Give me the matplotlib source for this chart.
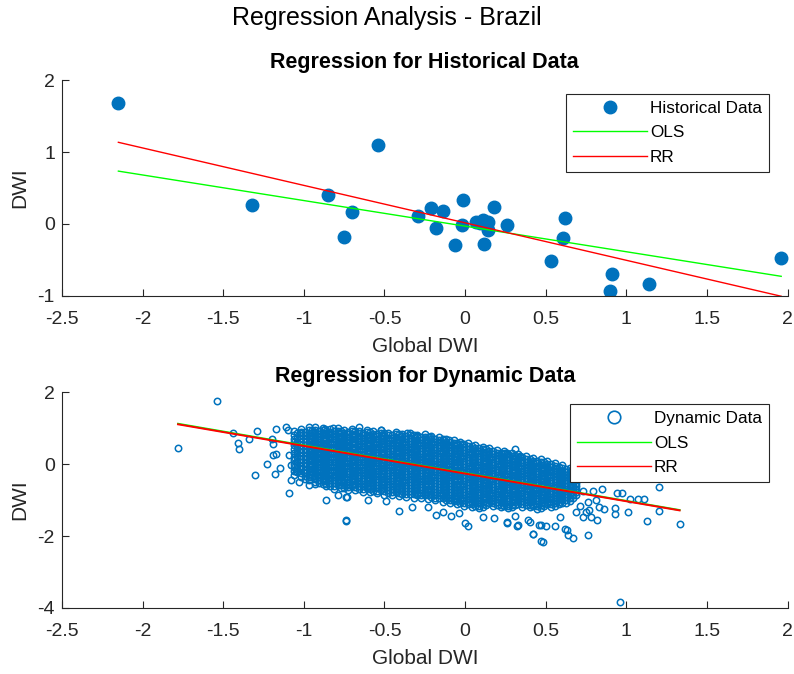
import numpy as np
import matplotlib.pyplot as plt
from matplotlib.lines import Line2D

plt.rcParams['font.family'] = ['Liberation Sans', 'DejaVu Sans']

# historical data (global DWI vs country DWI)
hist_x = [-2.15, -1.32, -0.85, -0.75, -0.70, -0.54, -0.29, -0.21, -0.14, -0.18,
          -0.06, -0.01, -0.02, 0.07, 0.09, 0.11, 0.14, 0.14, 0.12, 0.18,
          0.26, 0.53, 0.61, 0.62, 0.91, 0.90, 1.14, 1.96]
hist_y = [1.68, 0.27, 0.41, -0.18, 0.17, 1.10, 0.11, 0.22, 0.18, -0.05,
          -0.29, 0.33, -0.02, 0.03, 0.01, 0.06, 0.03, -0.08, -0.28, 0.23,
          -0.01, -0.51, -0.20, 0.09, -0.70, -0.93, -0.84, -0.47]

# fitted lines (intercept, slope)
hist_ols = [-0.030, -0.356]
hist_rr = [0.016, -0.521]
dyn_ols = [-0.250, -0.772]
dyn_rr = [-0.262, -0.770]

# dynamic data, dense part read column by column: (x, y values in hundredths)
dyn_cols = [
    (-1.06, [93, 82, 71, 61, 52, 41, 30, 21, 12, 1, -9, -20, -31]),
    (-1.04, [86, 74, 62, 51, 40, 30, 20, 9, -2, -12, -22]),
    (-1.02, [98, 89, 80, 72, 63, 52, 41, 33, 24, 15, 5, -4, -14, -25, -36]),
    (-0.995, [90, 80, 70, 61, 52, 42, 33, 23, 14, 4, -5, -15, -25, -34, -42]),
    (-0.97, [102, 94, 86, 79, 72, 64, 57, 51, 44, 36, 29, 23, 17, 9, 1, -6, -13, -21, -28, -37, -45]),
    (-0.95, [94, 86, 79, 71, 64, 57, 50, 43, 36, 29, 22, 15, 8, 1, -6, -13, -21, -29, -37]),
    (-0.93, [96, 90, 83, 75, 67, 61, 55, 47, 40, 33, 26, 18, 11, 4, -2, -10, -18, -25, -33, -41, -50]),
    (-0.905, [91, 84, 77, 70, 63, 56, 49, 42, 35, 28, 21, 14, 7, 0, -8, -15, -22, -30, -37, -44, -52]),
    (-0.88, [100, 94, 88, 81, 74, 67, 60, 54, 47, 40, 33, 26, 19, 12, 5, -2, -9, -16, -24, -31, -38, -46, -54]),
    (-0.86, [93, 87, 80, 73, 66, 59, 52, 45, 38, 31, 24, 17, 10, 3, -4, -11, -18, -25, -33, -40, -47, -55, -62]),
    (-0.84, [97, 90, 83, 76, 69, 63, 56, 48, 41, 34, 27, 20, 13, 6, -1, -8, -16, -23, -30, -38, -45, -52, -60]),
    (-0.815, [91, 84, 77, 70, 63, 56, 49, 42, 35, 27, 20, 13, 6, -1, -8, -15, -23, -30, -37, -45, -52, -60, -68]),
    (-0.79, [101, 93, 86, 79, 72, 65, 58, 52, 45, 37, 30, 23, 16, 9, 2, -5, -12, -20, -27, -35, -42, -50, -58]),
    (-0.77, [93, 86, 79, 71, 64, 57, 50, 43, 36, 29, 22, 14, 7, 0, -7, -15, -22, -29, -36, -43, -51, -59, -67]),
    (-0.75, [95, 88, 81, 73, 66, 60, 53, 45, 38, 31, 24, 16, 9, 2, -5, -12, -20, -27, -35, -42, -50, -58, -66]),
    (-0.725, [90, 83, 76, 68, 61, 54, 47, 40, 33, 25, 18, 10, 3, -5, -12, -20, -27, -35, -42, -50, -57, -64, -72]),
    (-0.70, [98, 91, 84, 77, 70, 62, 55, 49, 42, 34, 27, 20, 13, 5, -2, -9, -16, -24, -31, -39, -46, -54, -62]),
    (-0.68, [92, 85, 77, 70, 62, 55, 48, 41, 34, 26, 19, 12, 5, -3, -10, -18, -25, -33, -40, -48, -55, -63, -71]),
    (-0.66, [93, 86, 79, 72, 65, 57, 50, 43, 36, 28, 21, 14, 7, -1, -8, -16, -23, -31, -38, -46, -53, -61, -70]),
    (-0.635, [87, 80, 73, 65, 58, 51, 43, 36, 29, 21, 14, 6, -1, -9, -16, -24, -31, -39, -46, -54, -61, -70, -78]),
    (-0.61, [96, 89, 82, 74, 67, 60, 53, 45, 38, 31, 24, 16, 9, 2, -6, -13, -21, -28, -36, -44, -52, -60, -67]),
    (-0.59, [89, 82, 75, 67, 60, 52, 45, 37, 30, 22, 15, 7, 0, -8, -15, -23, -30, -38, -45, -53, -61, -69, -77]),
    (-0.57, [91, 84, 77, 69, 62, 55, 48, 40, 33, 25, 18, 10, 3, -5, -12, -20, -27, -35, -42, -50, -58, -66, -74]),
    (-0.545, [85, 78, 71, 63, 56, 48, 41, 33, 26, 18, 11, 3, -4, -12, -19, -27, -34, -42, -50, -58, -66, -74, -81]),
    (-0.52, [94, 87, 80, 72, 65, 57, 50, 42, 35, 27, 20, 12, 5, -3, -10, -18, -25, -33, -41, -49, -56, -64, -72]),
    (-0.50, [86, 79, 72, 64, 57, 49, 42, 34, 27, 19, 12, 4, -3, -11, -18, -26, -33, -41, -49, -57, -65, -75, -85]),
    (-0.48, [88, 81, 74, 66, 59, 51, 44, 36, 29, 21, 14, 6, -1, -9, -16, -24, -32, -40, -47, -55, -63, -71, -79]),
    (-0.455, [81, 74, 67, 59, 52, 44, 37, 29, 22, 14, 7, -1, -8, -16, -23, -31, -39, -47, -54, -62, -70, -78, -86]),
    (-0.43, [90, 83, 76, 68, 61, 53, 46, 38, 31, 23, 16, 8, 1, -7, -14, -22, -30, -38, -45, -53, -61, -69, -77]),
    (-0.41, [83, 75, 68, 60, 53, 45, 38, 30, 23, 15, 8, 0, -7, -15, -22, -30, -38, -46, -53, -61, -69, -79, -88]),
    (-0.39, [85, 78, 71, 63, 56, 48, 41, 33, 26, 18, 10, 3, -5, -13, -20, -28, -36, -44, -51, -59, -67, -75, -83]),
    (-0.365, [78, 70, 63, 55, 48, 40, 33, 25, 18, 10, 3, -5, -12, -20, -27, -35, -43, -51, -58, -66, -74, -82, -91]),
    (-0.34, [87, 80, 72, 64, 57, 49, 42, 34, 27, 19, 12, 4, -3, -11, -19, -27, -34, -42, -50, -58, -66, -74, -82]),
    (-0.32, [80, 72, 65, 57, 50, 42, 34, 26, 19, 11, 4, -4, -11, -19, -27, -35, -42, -50, -58, -66, -74, -84, -93]),
    (-0.30, [82, 75, 67, 59, 52, 44, 37, 29, 22, 14, 7, -1, -8, -16, -24, -32, -39, -47, -55, -63, -71, -79, -87]),
    (-0.275, [75, 67, 60, 52, 45, 37, 29, 21, 14, 6, -1, -9, -16, -24, -32, -40, -47, -55, -63, -71, -79, -87, -95]),
    (-0.25, [84, 76, 69, 61, 54, 46, 39, 31, 24, 16, 8, 0, -7, -15, -22, -30, -38, -46, -54, -62, -70, -78, -86]),
    (-0.23, [76, 68, 61, 53, 46, 38, 30, 22, 15, 7, -1, -9, -16, -24, -31, -39, -47, -55, -62, -70, -78, -87, -96]),
    (-0.21, [78, 70, 63, 55, 48, 40, 33, 25, 18, 10, 2, -6, -13, -21, -29, -37, -44, -52, -60, -68, -76, -84, -92]),
    (-0.185, [70, 62, 55, 47, 40, 32, 25, 17, 9, 1, -6, -14, -21, -29, -37, -45, -53, -61, -69, -77, -85, -93, -101]),
    (-0.16, [76, 68, 61, 53, 46, 38, 31, 23, 15, 7, 0, -8, -15, -23, -31, -39, -47, -55, -63, -71, -79, -87, -95]),
    (-0.14, [68, 60, 53, 45, 38, 30, 22, 14, 7, -1, -8, -16, -24, -32, -40, -47, -55, -63, -71, -79, -87, -95, -104]),
    (-0.12, [70, 62, 55, 47, 40, 32, 25, 17, 9, 1, -6, -14, -22, -30, -38, -45, -53, -61, -69, -77, -85, -92, -100]),
    (-0.095, [62, 54, 47, 39, 32, 24, 17, 9, 1, -6, -14, -22, -30, -37, -45, -53, -61, -69, -77, -85, -93, -100, -108]),
    (-0.07, [68, 60, 53, 45, 37, 29, 22, 14, 6, -1, -9, -17, -25, -32, -40, -48, -56, -64, -72, -80, -88, -95, -103]),
    (-0.05, [60, 52, 45, 37, 29, 21, 14, 6, -2, -9, -17, -25, -33, -40, -48, -56, -64, -72, -80, -88, -96, -103, -111]),
    (-0.03, [63, 55, 47, 39, 32, 24, 16, 8, 1, -7, -15, -22, -30, -38, -46, -54, -62, -69, -77, -85, -93, -100, -108]),
    (-0.005, [55, 47, 39, 31, 24, 16, 8, 0, -7, -15, -23, -30, -38, -46, -54, -62, -70, -77, -85, -93, -101, -108, -115]),
    (0.02, [58, 50, 43, 35, 27, 19, 12, 4, -4, -11, -19, -27, -35, -42, -50, -58, -66, -74, -82, -89, -97, -104, -112]),
    (0.04, [50, 42, 35, 27, 19, 11, 4, -4, -12, -19, -27, -35, -43, -50, -58, -66, -74, -82, -90, -97, -105, -111, -118]),
    (0.06, [54, 46, 38, 30, 23, 15, 7, -1, -8, -16, -24, -31, -39, -47, -55, -63, -71, -78, -86, -94, -102, -109, -116]),
    (0.085, [46, 38, 30, 22, 15, 7, -1, -8, -16, -24, -32, -39, -47, -55, -63, -70, -78, -86, -94, -101, -109, -115, -122]),
    (0.11, [49, 41, 34, 26, 18, 10, 3, -5, -13, -20, -28, -36, -44, -51, -59, -67, -75, -82, -90, -97, -105, -112, -119]),
    (0.13, [41, 33, 26, 18, 10, 2, -5, -13, -21, -28, -36, -44, -52, -59, -67, -75, -83, -90, -98, -105, -113]),
    (0.15, [45, 37, 29, 21, 14, 6, -2, -9, -17, -25, -33, -40, -48, -56, -64, -71, -79, -86, -94, -101, -109]),
    (0.175, [37, 29, 21, 13, 6, -2, -10, -17, -25, -33, -41, -48, -56, -64, -72, -79, -87, -94, -102, -109, -117]),
    (0.20, [40, 32, 25, 17, 9, 1, -6, -14, -22, -29, -37, -45, -53, -60, -68, -75, -83, -90, -98, -105, -113]),
    (0.22, [32, 24, 17, 9, 1, -6, -14, -22, -30, -37, -45, -52, -60, -68, -76, -83, -91, -98, -106, -113, -120]),
    (0.24, [36, 28, 20, 12, 5, -3, -11, -18, -26, -34, -42, -49, -57, -64, -72, -79, -87, -94, -102, -109, -117]),
    (0.265, [28, 20, 12, 4, -3, -11, -19, -26, -34, -41, -49, -56, -64, -72, -80, -87, -95, -102, -110, -116, -123]),
    (0.29, [31, 23, 16, 8, 0, -7, -15, -23, -31, -38, -46, -53, -61, -68, -76, -83, -91, -98, -106, -113, -120]),
    (0.31, [23, 15, 8, 0, -7, -15, -23, -30, -38, -45, -53, -61, -69, -76, -84, -91, -99, -106, -114]),
    (0.33, [27, 19, 11, 3, -4, -12, -20, -27, -35, -42, -50, -57, -65, -72, -80, -87, -95, -102, -110]),
    (0.355, [19, 11, 4, -4, -12, -19, -27, -34, -42, -50, -58, -65, -73, -80, -88, -95, -103, -110, -118]),
    (0.38, [22, 14, 7, -1, -9, -16, -24, -31, -39, -46, -54, -61, -69, -76, -84, -91, -99, -106, -114]),
    (0.40, [14, 6, -1, -9, -16, -23, -31, -38, -46, -53, -61, -68, -76, -83, -91, -98, -106, -113, -120]),
    (0.42, [18, 10, 2, -5, -13, -20, -28, -35, -43, -50, -58, -65, -73, -80, -88, -95, -103, -110, -117]),
    (0.445, [10, 2, -5, -12, -20, -27, -35, -42, -50, -57, -65, -72, -80, -87, -95, -102, -110, -117, -124]),
    (0.47, [13, 5, -2, -10, -17, -24, -32, -39, -47, -54, -62, -69, -77, -84, -92, -99, -107, -114, -121]),
    (0.49, [5, -3, -10, -17, -25, -32, -40, -47, -55, -62, -70, -77, -85, -92, -100, -107, -115]),
    (0.51, [8, 0, -7, -14, -22, -29, -37, -44, -52, -59, -67, -74, -82, -89, -97, -104, -112]),
    (0.535, [0, -8, -15, -22, -30, -37, -45, -52, -60, -67, -75, -82, -90, -97, -105, -112, -119]),
    (0.56, [3, -5, -12, -19, -27, -34, -42, -49, -57, -64, -72, -79, -87, -94, -102, -109, -116]),
    (0.58, [-7, -15, -22, -29, -37, -44, -52, -59, -67, -74, -82, -89, -97, -104, -112]),
    (0.60, [-3, -11, -18, -25, -33, -40, -48, -55, -63, -70, -78, -85, -93, -100, -108]),
    (0.625, [-14, -22, -29, -37, -45, -52, -60, -68, -76, -84, -92, -99, -107]),
    (0.65, [-10, -18, -25, -32, -40, -48, -56, -63, -71, -79, -87, -95, -103]),
    (0.67, [-27, -35, -43, -51, -60, -68, -77, -85, -94]),
    (0.69, [-20, -28, -36, -44, -52, -60, -69, -77, -85]),
]

# dynamic data, scattered points around the dense part
dyn_edge_x = [-1.54, -1.78, -1.44, -1.41, -1.40, -1.34, -1.29, -1.30, -1.23, -1.18,
              -1.15, -1.17, -1.11, -1.10, -1.20, -1.19, -1.19, -1.17, -1.09, -1.08,
              -1.03, -1.05, -1.08, -1.09, -1.02, -0.97, -0.93, -0.86, -0.79, -0.74,
              -0.74, -0.93, -0.87, -0.82, -1.00, -0.85, -0.77, -0.66, -0.52, -0.36,
              -0.30, -0.22, -0.14, -0.10, -0.02, 0.25, 0.31, 0.34, 0.41, -0.73,
              -0.74, -0.60, -0.49, -0.41, -0.33, -0.23, -0.18, -0.14, -0.09, -0.04,
              0.00, 0.02, 0.11, 0.18, 0.26, 0.31, 0.33, 0.40, 0.42, 0.47,
              0.47, 0.26, 0.34, 0.49, 0.52, 0.59, 0.60, 0.63, 0.68, 0.73,
              0.79, 0.85, 0.76, 0.81, 0.77, 0.83, 0.86, 0.71, 0.75, 0.93,
              0.93, 1.01, 0.97, 1.02, 1.07, 1.11, 1.20, 1.20, 1.13, 1.33,
              0.76, 0.67, 0.64, 0.62, 0.63, 0.48, 0.42, 0.50, 0.56, 0.46,
              0.26, 0.32, 0.39, 0.78, 0.82, 0.73, 0.69, 0.59, 0.94, 0.96]
dyn_edge_y = [1.77, 0.46, 0.88, 0.60, 0.42, 0.69, 0.92, -0.31, 0.01, -0.27,
              -0.12, 0.99, 1.02, 0.96, 0.71, 0.57, 0.25, 0.27, -0.81, -0.43,
              -0.49, -0.19, -0.03, 0.25, 0.88, -0.58, -0.56, -1.01, -0.86, -0.91,
              -1.57, 1.04, 0.99, 1.01, -0.23, -0.38, -0.49, 1.02, 0.94, 0.87,
              0.78, 0.76, 0.69, 0.67, 0.57, 0.31, 0.41, 0.20, -0.03, -0.91,
              -1.56, -1.00, -1.02, -1.30, -1.19, -1.19, -1.42, -1.32, -1.44, -1.35,
              -1.63, -1.72, -1.46, -1.51, -1.65, -1.44, -1.69, -1.60, -1.93, -1.69,
              -2.14, 0.30, 0.22, -0.12, -0.17, -0.19, -0.40, -0.44, -0.68, -0.75,
              -0.74, -0.69, -1.05, -1.00, -1.28, -1.20, -1.26, -1.17, -1.32, -1.23,
              -1.39, -1.32, -0.80, -0.97, -0.97, -0.97, -0.63, -1.30, -1.57, -1.67,
              -1.97, -2.06, -1.97, -1.79, -1.83, -2.16, -1.93, -1.72, -1.72, -1.69,
              -1.60, -1.72, -1.56, -1.46, -1.56, -1.46, -1.32, -1.46, -0.80, -3.83]

dyn_x = np.concatenate([np.full(len(ys), x) for x, ys in dyn_cols] + [dyn_edge_x])
dyn_y = np.concatenate([np.array(ys) / 100 for x, ys in dyn_cols] + [dyn_edge_y])

blue = '#0072BD'
axcol = '#262626'
xticks = [-2.5, -2, -1.5, -1, -0.5, 0, 0.5, 1, 1.5, 2]
xlabels = ['-2.5', '-2', '-1.5', '-1', '-0.5', '0', '0.5', '1', '1.5', '2']

fig = plt.figure(figsize=(7.94, 6.74), dpi=100)
fig.text(0.487, 0.973, 'Regression Analysis - Brazil', fontsize=18, ha='center', va='center')


def style(ax, yticks, ylabels, title, ty):
    for s in ['top', 'right']:
        ax.spines[s].set_visible(False)
    for s in ['left', 'bottom']:
        ax.spines[s].set_color(axcol)
        ax.spines[s].set_linewidth(0.8)
    ax.tick_params(direction='in', length=5, width=0.8, colors=axcol, labelsize=14)
    ax.tick_params(axis='x', pad=11)
    ax.tick_params(axis='y', pad=5)
    ax.set_xlim(-2.5, 2)
    ax.set_xticks(xticks)
    ax.set_xticklabels(xlabels)
    ax.set_yticks(yticks)
    ax.set_yticklabels(ylabels)
    ax.set_xlabel('Global DWI', fontsize=15, color=axcol)
    ax.xaxis.set_label_coords(0.5, -0.19)
    ax.set_ylabel('DWI', fontsize=15, color=axcol)
    ax.yaxis.set_label_coords(-0.045, 0.5)
    ax.text(0.5, ty, title, transform=ax.transAxes, fontsize=15.5, fontweight='bold',
            ha='center', va='center')


def leg(ax, handles, labels, anchor):
    lg = ax.legend(handles, labels, loc='upper right', bbox_to_anchor=anchor,
                   fontsize=12.3, fancybox=False, edgecolor=axcol, framealpha=1,
                   handlelength=4.3, handletextpad=0.2, labelspacing=0.55,
                   borderpad=0.4, borderaxespad=0)
    lg.get_frame().set_linewidth(0.8)


# top: historical
ax1 = fig.add_axes([0.078, 0.561, 0.914, 0.320])
ax1.plot(hist_x, hist_y, 'o', color=blue, markersize=9, linestyle='none')
xx = np.array([min(hist_x), max(hist_x)])
ax1.plot(xx, hist_ols[0] + hist_ols[1] * xx, color='#00FF00', lw=1.0)
ax1.plot(xx, hist_rr[0] + hist_rr[1] * xx, color='#FF0000', lw=1.0)
ax1.set_ylim(-1, 2)
style(ax1, [-1, 0, 1, 2], ['-1', '0', '1', '2'], 'Regression for Historical Data', 1.083)
h1 = [Line2D([], [], marker='o', color=blue, markersize=9, linestyle='none'),
      Line2D([], [], color='#00FF00', lw=1.0), Line2D([], [], color='#FF0000', lw=1.0)]
leg(ax1, h1, ['Historical Data', 'OLS', 'RR'], (0.974, 0.935))

# bottom: dynamic
ax2 = fig.add_axes([0.078, 0.098, 0.914, 0.320])
ax2.plot(dyn_x, dyn_y, 'o', markerfacecolor='none', markeredgecolor=blue,
         markersize=4.6, markeredgewidth=1.1, linestyle='none')
xx = np.array([dyn_x.min(), dyn_x.max()])
ax2.plot(xx, dyn_ols[0] + dyn_ols[1] * xx, color='#00FF00', lw=1.4)
ax2.plot(xx, dyn_rr[0] + dyn_rr[1] * xx, color='#FF0000', lw=1.4)
ax2.set_ylim(-4, 2)
style(ax2, [-4, -2, 0, 2], ['-4', '-2', '0', '2'], 'Regression for Dynamic Data', 1.074)
h2 = [Line2D([], [], marker='o', markerfacecolor='none', markeredgecolor=blue,
             markersize=9, markeredgewidth=1.2, linestyle='none'),
      Line2D([], [], color='#00FF00', lw=1.0), Line2D([], [], color='#FF0000', lw=1.0)]
leg(ax2, h2, ['Dynamic Data', 'OLS', 'RR'], (0.974, 0.944))

fig.savefig('out.png', dpi=100, facecolor='white')
